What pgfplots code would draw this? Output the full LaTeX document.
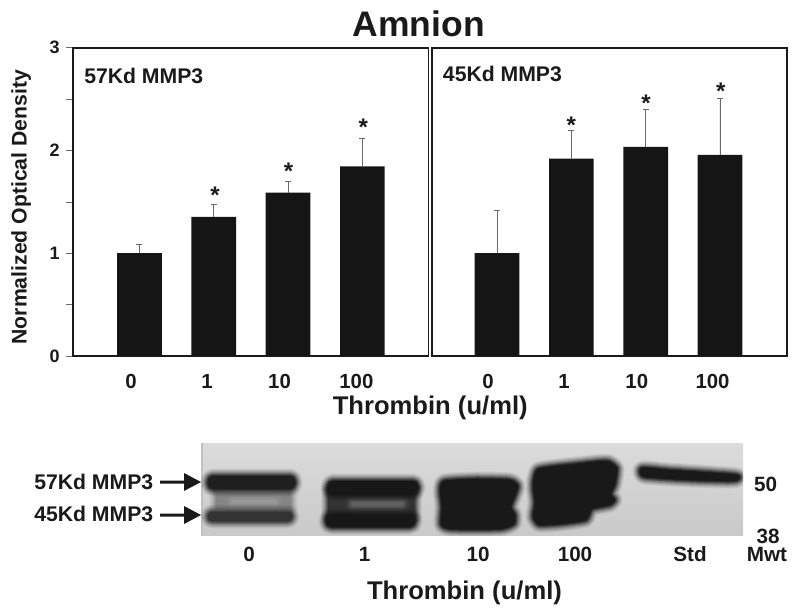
\documentclass[border=0pt]{standalone}
\usepackage{pgfplots}
\pgfplotsset{compat=1.18}
\usepackage{fontspec}
\setmainfont{Liberation Sans}
\definecolor{ink}{HTML}{1A1A1A}
\definecolor{barc}{HTML}{151515}
\definecolor{errc}{HTML}{6A6A6A}
\newcommand\fs[1]{\fontsize{#1}{#1}\selectfont\bfseries}
% soft edged shape in pixel coordinates
\newcommand\blob[2]{%
  \foreach \w/\a in {15/0.07,13/0.09,11/0.12,9/0.16,7/0.22,5/0.35,3/0.5,1/0.6}{\draw[#1,line width=\w*0.75pt,opacity=\a,line join=round] #2;}%
  \fill[#1] #2;}
\pgfplotsset{
  panel/.style={
    scale only axis, anchor=south west,
    height=231.2pt,
    ymin=0, ymax=3,
    axis line style={ink,line width=1.2pt},
    tick style={errc,line width=0.4pt},
    tick align=outside,
    major tick length=5.25pt, minor tick length=5.25pt,
    ybar, bar width=33.5pt,
    xtick pos=bottom,
    xticklabels={0,1,10,100},
    x tick label style={font=\fs{15.3},text=ink,inner sep=0pt,yshift=-8pt,anchor=north,text height=11pt,text depth=0pt},
    xtick style={draw=none},
    major x tick style={draw=none},
  },
  bars/.style={draw=none,fill=barc,bar shift=0pt,
    error bars/.cd, y dir=plus, y explicit,
    error bar style={errc,line width=0.5pt},
    error mark options={errc,line width=0.4pt,mark size=2.25pt,rotate=90}},
  stars/.style={draw=none,fill=none,bar width=0pt,bar shift=0pt,
    nodes near coords={*},
    every node near coord/.append style={font=\fs{18},text=ink,inner sep=0pt,anchor=north,yshift=4.9pt,xshift=0pt}},
}
\begin{document}
\begin{tikzpicture}
\path[use as bounding box] (0,0) rectangle (600pt,-459.75pt);
\begin{axis}[panel,
  at={(54.75pt,-267pt)}, width=266.6pt,
  xmin=-0.895, xmax=3.89,
  xtick={-0.114,0.908,1.885,2.92},
  ytick={0,1,2,3}, yticklabels={0,1,2,3},
  minor ytick={0.5,1.5,2.5},
  ytick pos=left,
  y tick label style={font=\fs{13.5},text=ink,inner sep=0pt,xshift=-4.5pt},
  ylabel={Normalized Optical Density},
  every axis y label/.style={at={(axis description cs:-0.1307,0.483)},rotate=90,anchor=base,font=\fs{15.9},text=ink},
  xlabel={Thrombin (u/ml)},
  every axis x label/.style={at={(axis description cs:1.005,-0.191)},anchor=base,font=\fs{19.2},text=ink},
  title={Amnion},
  every axis title/.style={at={(axis description cs:0.9727,1.0357)},anchor=base,font=\fs{26.6},text=ink},
]
\addplot[bars] table[x=x,y=y,y error=e] {
x y e
0 1.000 0.086
1 1.355 0.124
2 1.589 0.111
3 1.845 0.272
};
\addplot[stars] table[x=x,y=y] {
x y
1.016 1.586
2.008 1.819
3.012 2.247
};
\end{axis}
\begin{axis}[panel,
  at={(323.8pt,-267pt)}, width=266.5pt,
  xmin=-0.879, xmax=3.903,
  xtick={-0.12,0.90,1.88,2.90},
  ytick=\empty,
]
\addplot[bars] table[x=x,y=y,y error=e] {
x y e
0 1.000 0.417
1 1.920 0.275
2 2.036 0.370
3 1.958 0.555
};
\addplot[stars] table[x=x,y=y] {
x y
1.000 2.269
2.005 2.480
3.010 2.597
};
\end{axis}
\begin{scope}[x=0.75pt,y=-0.75pt]
\tikzset{lab/.style={inner sep=0pt,text=ink}}
\node[lab,anchor=base west,font=\fs{15.9}] at (84,83.3) {57Kd MMP3};
\node[lab,anchor=base west,font=\fs{15.9}] at (442.7,81.7) {45Kd MMP3};
% blot
\shade[top color=black!14,bottom color=black!21] (201,443) rectangle (743,535);
\fill[black!24] (201,443) rectangle (203,535);
\begin{scope}
\clip (201,443) rectangle (743,535);
% lane 0
\blob{black!48}{(216,493) rectangle (290,507)}
\blob{black!40}{(232,500) rectangle (275,502)}
\blob{black!88}{[rounded corners=4pt] (208,476) rectangle (295,489)}
\blob{black!80}{[rounded corners=3pt] (208,512) rectangle (292,521)}
% lane 1
\blob{black!80}{(328,490) rectangle (414,516)}
\blob{black!62}{(352,502) rectangle (402,505)}
\blob{black!91}{[rounded corners=4pt] (328,481) rectangle (418,494)}
\blob{black!91}{[rounded corners=4pt] (326,515) rectangle (415,527)}
% lane 10
\blob{black!90}{plot[smooth cycle,tension=0.35] coordinates {(444,481) (475,479) (510,480) (518,486) (515,496) (511,507) (515,515) (514,524) (500,529) (450,529) (441,524) (442,507) (440,490)}}
% lane 100
\blob{black!90}{plot[smooth cycle,tension=0.3] coordinates {(538,469) (575,464) (607,461) (617,468) (615,484) (611,494) (615,500) (610,505) (592,509) (586,520) (560,524) (539,525) (533,517) (535,503) (533,485)}}
% standard
\blob{black!90}{plot[smooth cycle,tension=0.5] coordinates {(642,468) (670,470) (715,473) (737,475) (739,479) (730,481) (690,480) (655,478) (642,476)}}
\end{scope}
% arrows
\fill[ink] (160,480.5) -- (184,480.5) -- (184,473) -- (201,482) -- (184,491) -- (184,483.5) -- (160,483.5) -- cycle;
\fill[ink] (160,513.5) -- (184,513.5) -- (184,506) -- (201,515) -- (184,524) -- (184,516.5) -- (160,516.5) -- cycle;
\node[lab,anchor=base west,font=\fs{15.9}] at (34,489.3) {57Kd MMP3};
\node[lab,anchor=base west,font=\fs{15.9}] at (34,521) {45Kd MMP3};
\foreach \x/\t in {249/0,364.6/1,478/10,575/100,690/Std,767/Mwt}{
  \node[lab,anchor=base,font=\fs{15.5}] at (\x,561.7) {\t};}
\node[lab,anchor=base,font=\fs{15.5}] at (765.5,491) {50};
\node[lab,anchor=base,font=\fs{15.5}] at (768,543) {38};
\node[lab,anchor=base,font=\fs{19.2}] at (464.5,599) {Thrombin (u/ml)};
\end{scope}
\end{tikzpicture}
\end{document}
